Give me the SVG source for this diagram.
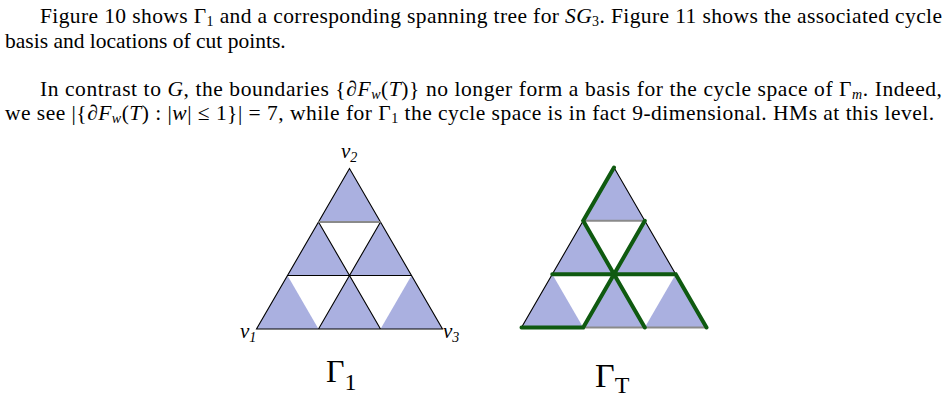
<svg xmlns="http://www.w3.org/2000/svg" width="949" height="400" viewBox="0 0 949 400">
<style>
.t{font-family:"Liberation Serif","Times New Roman",serif;font-size:21.5px;fill:#000}
.i{font-style:italic}
.s{font-size:14px}
.f{fill:#aab0e0;stroke:none}
.e{stroke:#000;stroke-width:1.1;fill:none}
.g{stroke:#8a8a8a;stroke-width:2;fill:none}
.tr{stroke:#0f5a10;stroke-width:4;stroke-linecap:round;fill:none}
.lab{font-family:"Liberation Serif","Times New Roman",serif;font-style:italic;font-size:21px;fill:#000}
.cap{font-family:"Liberation Serif","Times New Roman",serif;fill:#000}
</style>
<rect width="949" height="400" fill="#fff"/>
<g id="text">
<text class="t" x="40" y="23" textLength="902" lengthAdjust="spacing">Figure 10 shows Γ<tspan class="s" dy="3">1</tspan><tspan dy="-3"> and a corresponding spanning tree for </tspan><tspan class="i">SG</tspan><tspan class="s" dy="3">3</tspan><tspan dy="-3">. Figure 11 shows the associated cycle</tspan></text>
<text class="t" x="5" y="48">basis and locations of cut points.</text>
<text class="t" x="40" y="96" textLength="902" lengthAdjust="spacing">In contrast to <tspan class="i">G</tspan>, the boundaries {∂<tspan class="i">F</tspan><tspan class="s i" dy="3">w</tspan><tspan dy="-3">(</tspan><tspan class="i">T</tspan>)} no longer form a basis for the cycle space of Γ<tspan class="s i" dy="3">m</tspan><tspan dy="-3">. Indeed,</tspan></text>
<text class="t" x="5" y="120" textLength="929" lengthAdjust="spacing">we see |{∂<tspan class="i">F</tspan><tspan class="s i" dy="3">w</tspan><tspan dy="-3">(</tspan><tspan class="i">T</tspan>) : |<tspan class="i">w</tspan>| ≤ 1}| = 7, while for Γ<tspan class="s" dy="3">1</tspan><tspan dy="-3"> the cycle space is in fact 9-dimensional. HMs at this level.</tspan></text>
</g>
<g id="gamma1">
<polygon class="f" points="349.5,168.5 318.5,222 380.5,222"/>
<polygon class="f" points="318.5,222 287.5,275.5 349.5,275.5"/>
<polygon class="f" points="380.5,222 349.5,275.5 411.5,275.5"/>
<polygon class="f" points="287.5,275.5 256.5,329 318.5,329"/>
<polygon class="f" points="349.5,275.5 318.5,329 380.5,329"/>
<polygon class="f" points="411.5,275.5 380.5,329 442.5,329"/>
<path class="e" d="M349.5,168.5 L256.5,329 L442.5,329 Z M287.5,275.5 L411.5,275.5 M318.5,222 L380.5,329 M380.5,222 L318.5,329"/>
<path class="g" d="M318.5,222 L380.5,222"/>
<text class="lab" x="341" y="158">v<tspan font-size="14" dy="4">2</tspan></text>
<text class="lab" x="240" y="338">v<tspan font-size="14" dy="4">1</tspan></text>
<text class="lab" x="443" y="338">v<tspan font-size="14" dy="4">3</tspan></text>
<text class="cap" x="326" y="382" font-size="32">Γ<tspan font-size="24" dy="8">1</tspan></text>
</g>
<g id="gammaT">
<polygon class="f" points="614,167.5 583.2,220.8 644.8,220.8"/>
<polygon class="f" points="583.2,220.8 552.3,274.2 614,274.2"/>
<polygon class="f" points="644.8,220.8 614,274.2 675.7,274.2"/>
<polygon class="f" points="552.3,274.2 521.5,327.5 583.2,327.5"/>
<polygon class="f" points="614,274.2 583.2,327.5 644.8,327.5"/>
<polygon class="f" points="675.7,274.2 644.8,327.5 706.5,327.5"/>
<path class="e" d="M614,167.5 L521.5,327.5 L706.5,327.5 Z M552.3,274.2 L675.7,274.2 M583.2,220.8 L644.8,327.5 M644.8,220.8 L583.2,327.5"/>
<path class="g" d="M583.2,220.8 L644.8,220.8 M583.2,327.5 L706.5,327.5"/>
<g id="tree">
<path class="tr" d="M614,167.5 L583.2,220.8 L614,274.2 L644.8,220.8 M552.3,274.2 L675.7,274.2 L706.5,327.5 M614,274.2 L583.2,327.5 L521.5,327.5 M614,274.2 L644.8,327.5"/>
</g>
<text class="cap" x="595" y="387" font-size="34">Γ<tspan font-size="24" dy="6">T</tspan></text>
</g>
</svg>
